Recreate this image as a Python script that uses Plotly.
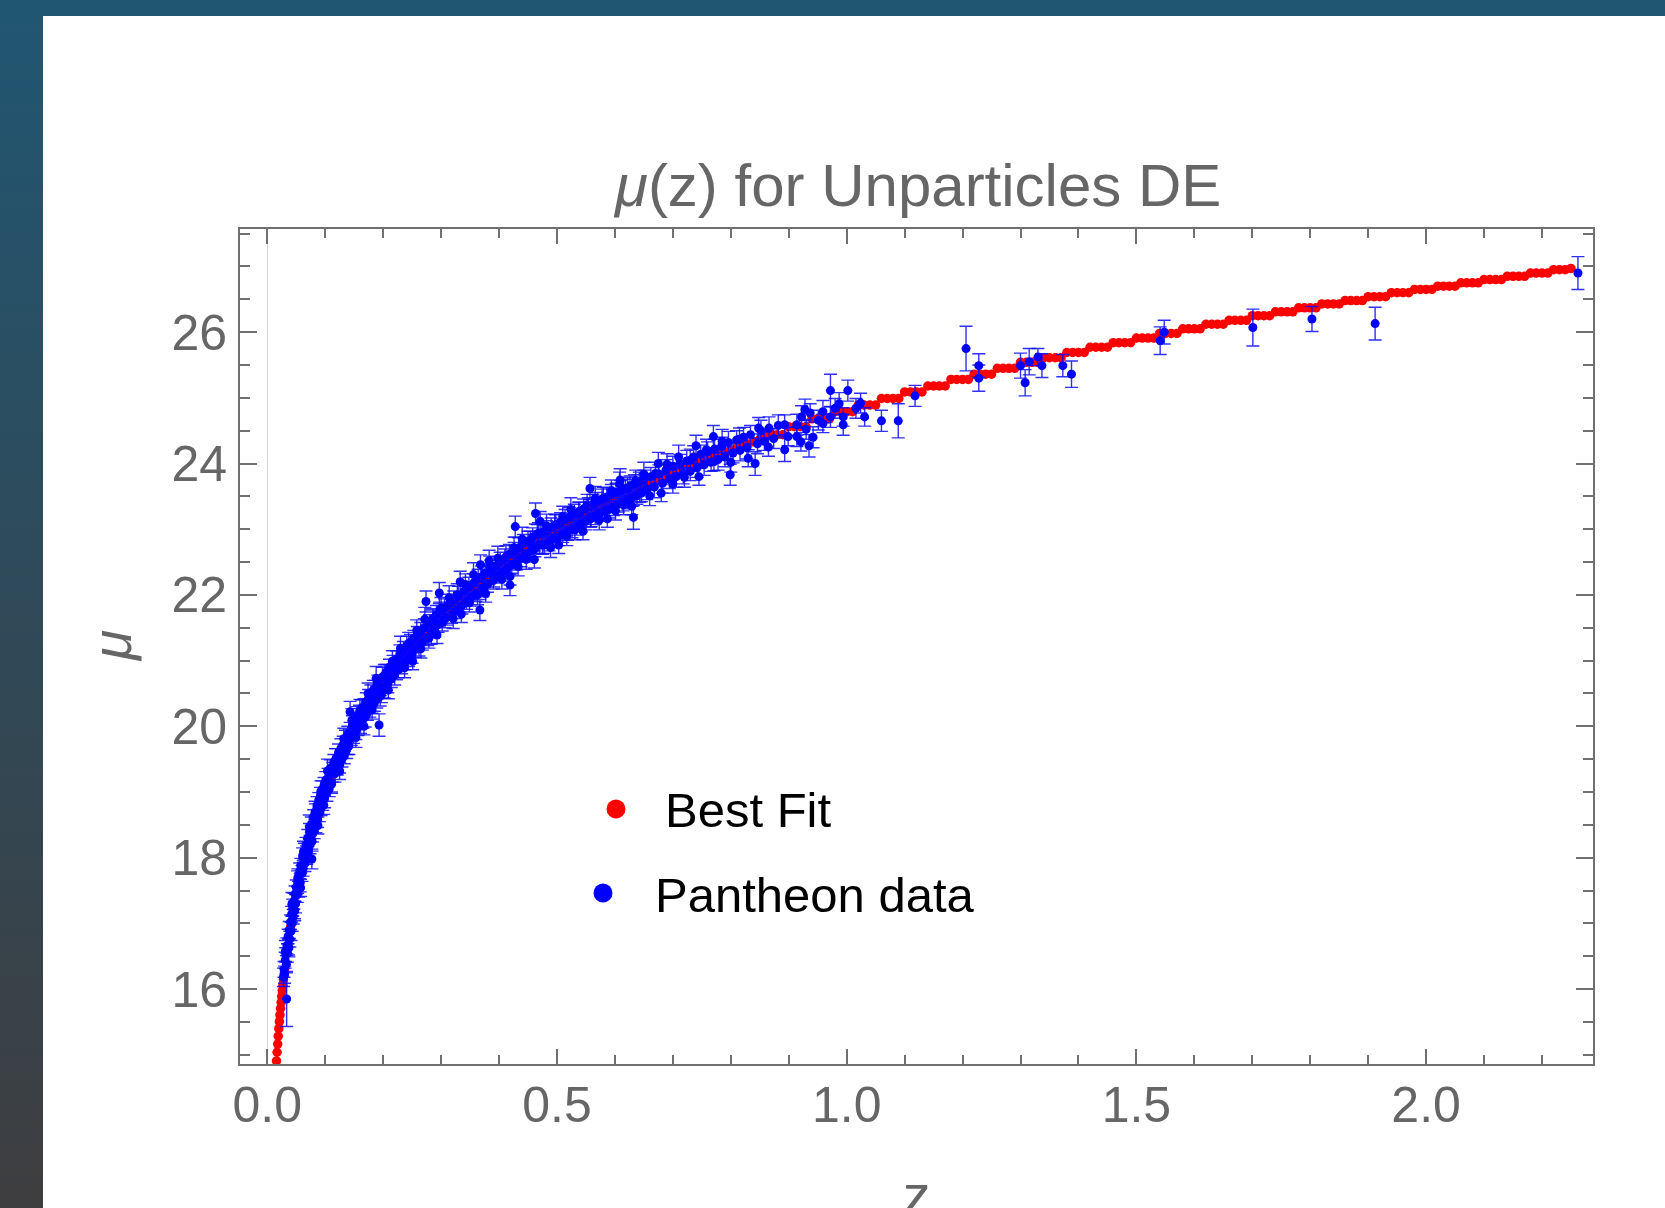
import plotly.graph_objects as go

# ---------------- data ----------------
bestfit_z = [0.015, 0.016, 0.017, 0.018, 0.019, 0.020, 0.021, 0.022, 0.023, 0.024, 0.025, 0.026, 0.027, 0.028, 0.029, 0.030,
             0.035, 0.040, 0.045, 0.050, 0.055, 0.060, 0.065, 0.070, 0.075, 0.080, 0.085, 0.090, 0.095,
             0.10, 0.11, 0.12, 0.13, 0.14, 0.15, 0.16, 0.17, 0.18, 0.19, 0.20, 0.21, 0.22, 0.23, 0.24, 0.25, 0.26, 0.27, 0.28, 0.29,
             0.30, 0.31, 0.32, 0.33, 0.34, 0.35, 0.36, 0.37, 0.38, 0.39, 0.40, 0.41, 0.42, 0.43, 0.44, 0.45, 0.46, 0.47, 0.48, 0.49,
             0.50, 0.51, 0.52, 0.53, 0.54, 0.55, 0.56, 0.57, 0.58, 0.59, 0.60, 0.61, 0.62, 0.63, 0.64, 0.65, 0.66, 0.67, 0.68, 0.69,
             0.70, 0.71, 0.72, 0.73, 0.74, 0.75, 0.76, 0.77, 0.78, 0.79, 0.80, 0.81, 0.82, 0.83, 0.84, 0.85, 0.86, 0.87, 0.88, 0.89,
             0.90, 0.91, 0.92, 0.93, 0.94, 0.95, 0.96, 0.97, 0.98, 0.99, 1.00, 1.01, 1.02, 1.03, 1.04, 1.05, 1.06, 1.07, 1.08, 1.09,
             1.10, 1.11, 1.12, 1.13, 1.14, 1.15, 1.16, 1.17, 1.18, 1.19, 1.20, 1.21, 1.22, 1.23, 1.24, 1.25, 1.26, 1.27, 1.28, 1.29,
             1.30, 1.31, 1.32, 1.33, 1.34, 1.35, 1.36, 1.37, 1.38, 1.39, 1.40, 1.41, 1.42, 1.43, 1.44, 1.45, 1.46, 1.47, 1.48, 1.49,
             1.50, 1.51, 1.52, 1.53, 1.54, 1.55, 1.56, 1.57, 1.58, 1.59, 1.60, 1.61, 1.62, 1.63, 1.64, 1.65, 1.66, 1.67, 1.68, 1.69,
             1.70, 1.71, 1.72, 1.73, 1.74, 1.75, 1.76, 1.77, 1.78, 1.79, 1.80, 1.81, 1.82, 1.83, 1.84, 1.85, 1.86, 1.87, 1.88, 1.89,
             1.90, 1.91, 1.92, 1.93, 1.94, 1.95, 1.96, 1.97, 1.98, 1.99, 2.00, 2.01, 2.02, 2.03, 2.04, 2.05, 2.06, 2.07, 2.08, 2.09,
             2.10, 2.11, 2.12, 2.13, 2.14, 2.15, 2.16, 2.17, 2.18, 2.19, 2.20, 2.21, 2.22, 2.23, 2.24, 2.25]
bestfit_mu = [14.764, 14.906, 15.039, 15.164, 15.284, 15.397, 15.504, 15.607, 15.706, 15.799, 15.890, 15.977, 16.060, 16.141, 16.219, 16.294,
              16.637, 16.935, 17.199, 17.435, 17.650, 17.847, 18.029, 18.197, 18.354, 18.501, 18.640, 18.771, 18.896,
              19.015, 19.235, 19.438, 19.625, 19.800, 19.963, 20.117, 20.262, 20.400, 20.531, 20.656, 20.773, 20.886, 20.995, 21.098, 21.199, 21.296, 21.390, 21.481, 21.569,
              21.654, 21.736, 21.815, 21.893, 21.968, 22.042, 22.113, 22.183, 22.251, 22.318, 22.384, 22.447, 22.508, 22.568, 22.628, 22.686, 22.743, 22.798, 22.853, 22.907,
              22.960, 23.012, 23.062, 23.111, 23.160, 23.208, 23.255, 23.302, 23.348, 23.393, 23.438, 23.481, 23.524, 23.566, 23.607, 23.648, 23.689, 23.729, 23.768, 23.807,
              23.846, 23.883, 23.920, 23.957, 23.993, 24.028, 24.064, 24.099, 24.133, 24.168, 24.201, 24.234, 24.267, 24.299, 24.331, 24.363, 24.44, 24.44, 24.44, 24.44,
              24.56, 24.56, 24.56, 24.56, 24.68, 24.68, 24.68, 24.68, 24.79, 24.79, 24.79, 24.79, 24.89, 24.89, 24.89, 24.89, 24.99, 24.99, 24.99, 24.99,
              25.09, 25.09, 25.09, 25.09, 25.18, 25.18, 25.18, 25.18, 25.28, 25.28, 25.28, 25.28, 25.36, 25.36, 25.36, 25.36, 25.45, 25.45, 25.45, 25.45,
              25.54, 25.54, 25.54, 25.54, 25.61, 25.61, 25.61, 25.61, 25.69, 25.69, 25.69, 25.69, 25.77, 25.77, 25.77, 25.77, 25.84, 25.84, 25.84, 25.84,
              25.91, 25.91, 25.91, 25.91, 25.98, 25.98, 25.98, 25.98, 26.05, 26.05, 26.05, 26.05, 26.12, 26.12, 26.12, 26.12, 26.18, 26.18, 26.18, 26.18,
              26.25, 26.25, 26.25, 26.25, 26.31, 26.31, 26.31, 26.31, 26.37, 26.37, 26.37, 26.37, 26.43, 26.43, 26.43, 26.43, 26.48, 26.48, 26.48, 26.48,
              26.54, 26.54, 26.54, 26.54, 26.60, 26.60, 26.60, 26.60, 26.65, 26.65, 26.65, 26.65, 26.70, 26.70, 26.70, 26.70, 26.75, 26.75, 26.75, 26.75,
              26.80, 26.80, 26.80, 26.80, 26.85, 26.85, 26.85, 26.85, 26.90, 26.90, 26.90, 26.90, 26.95, 26.95, 26.95, 26.97]

pantheon_z = [0.028, 0.029, 0.030, 0.031, 0.032, 0.033, 0.0335, 0.034, 0.035, 0.036, 0.037, 0.038, 0.039, 0.040, 0.041, 0.042, 0.043, 0.044, 0.045, 0.046,
              0.047, 0.048, 0.049, 0.050, 0.052, 0.053, 0.054, 0.056, 0.057, 0.058, 0.060, 0.061, 0.062, 0.064, 0.065, 0.067, 0.068, 0.070, 0.071, 0.073,
              0.074, 0.076, 0.077, 0.078, 0.080, 0.081, 0.083, 0.084, 0.086, 0.087, 0.089, 0.090, 0.092, 0.093, 0.095, 0.096, 0.098, 0.099,
              0.101, 0.103, 0.105, 0.107, 0.109, 0.111, 0.113, 0.115, 0.117, 0.119, 0.121, 0.123, 0.125, 0.127, 0.129, 0.131, 0.133, 0.135, 0.137, 0.139,
              0.141, 0.143, 0.145, 0.147, 0.149, 0.151, 0.153, 0.155, 0.157, 0.159, 0.161, 0.163, 0.165, 0.167, 0.169, 0.171, 0.173, 0.175, 0.177, 0.179,
              0.181, 0.183, 0.185, 0.187, 0.189, 0.191, 0.193, 0.195, 0.197, 0.199, 0.202, 0.205, 0.208, 0.211, 0.214, 0.217, 0.220, 0.223, 0.226, 0.229,
              0.232, 0.235, 0.238, 0.241, 0.244, 0.247, 0.250, 0.253, 0.256, 0.259, 0.262, 0.265, 0.268, 0.271, 0.274, 0.277, 0.280, 0.283, 0.286, 0.289,
              0.292, 0.295, 0.297, 0.298,
              0.302, 0.306, 0.310, 0.314, 0.318, 0.322, 0.326, 0.330, 0.333, 0.336, 0.340, 0.344, 0.348, 0.352, 0.356, 0.360, 0.364, 0.367, 0.368, 0.372,
              0.376, 0.380, 0.383, 0.386, 0.390, 0.394, 0.398, 0.402, 0.406, 0.410, 0.414, 0.418, 0.419, 0.422, 0.426, 0.428, 0.430, 0.434, 0.438, 0.442,
              0.446, 0.450, 0.454, 0.458, 0.462, 0.463, 0.466, 0.470, 0.471,
              0.474, 0.478, 0.482, 0.486, 0.490, 0.494, 0.498, 0.502, 0.506, 0.510, 0.514, 0.518, 0.522, 0.526, 0.530, 0.534, 0.538, 0.542, 0.546, 0.550,
              0.554, 0.557, 0.558, 0.562, 0.566, 0.570, 0.574, 0.578, 0.582, 0.586, 0.590, 0.594, 0.598, 0.602, 0.606, 0.609, 0.610, 0.614, 0.618, 0.622,
              0.626, 0.630, 0.632, 0.634, 0.638, 0.642, 0.646, 0.650,
              0.655, 0.662, 0.668, 0.675, 0.676, 0.682, 0.688, 0.694, 0.700, 0.706, 0.712, 0.718, 0.724, 0.730, 0.736, 0.740, 0.742, 0.748, 0.754, 0.760,
              0.766, 0.770, 0.772, 0.778, 0.784, 0.790, 0.796, 0.799, 0.804, 0.810, 0.816, 0.822, 0.828, 0.834, 0.842, 0.846, 0.852, 0.858, 0.866, 0.874,
              0.882,
              0.893, 0.893, 0.899, 0.914, 0.914, 0.921, 0.922, 0.928, 0.930, 0.935, 0.937, 0.942, 0.951, 0.959, 0.959, 0.972, 0.972, 0.980, 0.987, 0.994,
              0.994, 1.002, 1.016, 1.024, 1.031, 1.060, 1.089, 1.118, 1.206, 1.228, 1.228, 1.300, 1.308, 1.315, 1.330, 1.337, 1.373, 1.388, 1.541, 1.548,
              1.701, 1.803, 1.912, 2.262,
              0.0315, 0.0375, 0.0425, 0.0475, 0.0525, 0.0575, 0.0625, 0.0675, 0.0725, 0.0775, 0.0825, 0.0875, 0.0925, 0.0975,
              0.104, 0.111, 0.118, 0.125, 0.132, 0.139, 0.146, 0.153, 0.160, 0.167, 0.174, 0.181, 0.188, 0.195, 0.202, 0.209, 0.216, 0.223, 0.230, 0.237,
              0.244, 0.251, 0.258, 0.265, 0.272, 0.279, 0.286, 0.293, 0.300, 0.307, 0.314, 0.321, 0.328, 0.335, 0.342, 0.349, 0.356, 0.363, 0.370, 0.377,
              0.384, 0.391, 0.398, 0.405, 0.412, 0.419, 0.426, 0.433, 0.440, 0.447, 0.454, 0.461, 0.468, 0.475, 0.482, 0.489, 0.496, 0.503, 0.510, 0.517,
              0.524, 0.531, 0.538, 0.545, 0.552, 0.559, 0.566, 0.573, 0.580, 0.587, 0.594, 0.601, 0.608, 0.615, 0.622, 0.629, 0.636, 0.643, 0.650, 0.660,
              0.670, 0.680, 0.690, 0.700, 0.710, 0.720, 0.730, 0.745, 0.758, 0.771, 0.785, 0.800, 0.815, 0.830, 0.848, 0.865]
pantheon_mu = [16.18, 16.30, 16.22, 16.44, 16.52, 16.38, 15.85, 16.66, 16.55, 16.80, 16.64, 16.90, 16.76, 17.02, 16.88, 17.14, 17.00, 17.24, 17.10, 17.34,
               17.20, 17.45, 17.30, 17.55, 17.44, 17.70, 17.52, 17.80, 17.62, 17.88, 17.76, 18.02, 17.84, 18.10, 17.92, 18.20, 18.02, 18.30, 18.10, 18.40,
               18.20, 18.50, 17.98, 18.36, 18.62, 18.42, 18.70, 18.50, 18.80, 18.58, 18.88, 18.68, 18.95, 18.76, 19.04, 18.84, 19.10, 18.90,
               19.18, 18.98, 19.22, 19.05, 19.36, 19.12, 19.30, 19.45, 19.28, 19.52, 19.38, 19.60, 19.41, 19.66, 19.50, 19.72, 19.55, 19.80, 19.64, 19.88,
               19.70, 20.22, 19.83, 20.02, 19.86, 20.08, 19.92, 20.15, 19.99, 20.20, 20.03, 20.28, 20.10, 20.30, 20.14, 20.38, 20.21, 20.42, 20.26, 20.50,
               20.32, 20.55, 20.36, 20.58, 20.42, 20.66, 20.02, 20.60, 20.48, 20.75, 20.56, 20.82, 20.65, 20.90, 20.72, 20.96, 20.78, 21.02, 20.86, 21.10,
               20.92, 21.16, 20.98, 21.22, 21.04, 21.28, 21.10, 21.34, 21.18, 21.40, 21.22, 21.45, 21.28, 21.50, 21.90, 21.36, 21.58, 21.40, 21.64, 21.48,
               21.70, 21.55, 22.03, 21.76,
               21.58, 21.80, 21.66, 21.86, 21.70, 21.92, 21.76, 21.98, 22.20, 21.84, 22.06, 21.90, 22.12, 21.96, 22.18, 22.02, 22.24, 21.77, 22.46, 22.10,
               22.33, 22.16, 22.52, 22.38, 22.22, 22.44, 22.30, 22.50, 22.34, 22.56, 22.40, 22.62, 22.15, 22.46, 22.66, 23.04, 22.50, 22.72, 22.56, 22.78,
               22.62, 22.82, 22.66, 22.88, 22.70, 23.24, 22.92, 22.76, 23.12,
               22.95, 22.76, 22.98, 22.80, 23.03, 22.85, 23.07, 22.88, 23.11, 22.92, 23.15, 22.96, 23.19, 23.00, 23.23, 23.04, 23.27, 23.08, 23.31, 23.12,
               23.34, 23.62, 23.16, 23.38, 23.20, 23.42, 23.24, 23.46, 23.27, 23.49, 23.30, 23.53, 23.34, 23.56, 23.38, 23.75, 23.59, 23.41, 23.62, 23.44,
               23.66, 23.48, 23.18, 23.69, 23.51, 23.72, 23.55, 23.76,
               23.60, 23.80, 23.64, 24.00, 23.84, 23.70, 23.90, 23.76, 23.96, 23.80, 24.00, 23.84, 24.04, 23.88, 24.10, 24.27, 23.94, 24.14, 23.98, 24.18,
               24.02, 24.41, 24.22, 24.06, 24.26, 24.10, 24.32, 23.83, 24.16, 24.36, 24.20, 24.40, 24.24, 24.44, 24.00, 24.30, 24.50, 24.34, 24.54, 24.38,
               24.58,
               24.59, 24.21, 24.41, 24.59, 24.41, 24.33, 24.71, 24.82, 24.52, 24.27, 24.77, 24.40, 24.66, 24.79, 24.61, 24.71, 25.11, 24.84, 24.91, 24.71,
               24.59, 25.11, 24.84, 24.92, 24.71, 24.65, 24.65, 25.03, 25.75, 25.49, 25.30, 25.49, 25.23, 25.55, 25.62, 25.49, 25.49, 25.36, 25.87, 26.00,
               26.07, 26.20, 26.13, 26.90,
               16.58, 16.63, 17.29, 17.19, 17.63, 17.54, 18.09, 18.04, 18.47, 18.25, 18.69, 18.49, 19.01, 18.80,
               19.32, 19.13, 19.49, 19.32, 19.81, 19.71, 20.09, 19.83, 20.24, 20.00, 20.50, 20.25, 20.73, 20.46, 20.77, 20.55, 20.99, 20.85, 21.19, 20.89,
               21.26, 20.99, 21.46, 21.18, 21.63, 21.34, 21.62, 21.39, 21.80, 21.64, 21.96, 21.64, 22.00, 21.71, 22.16, 21.88, 22.31, 22.00, 22.27, 22.02,
               22.43, 22.26, 22.56, 22.24, 22.58, 22.28, 22.72, 22.43, 22.85, 22.54, 22.80, 22.54, 22.94, 22.76, 23.05, 22.72, 23.06, 22.76, 23.19, 22.89,
               23.30, 22.99, 23.24, 22.97, 23.37, 23.18, 23.47, 23.14, 23.47, 23.16, 23.59, 23.28, 23.69, 23.37, 23.62, 23.35, 23.74, 23.55, 23.84, 23.51,
               23.85, 23.55, 23.99, 23.69, 24.10, 23.79, 24.05, 23.80, 24.21, 24.03, 24.34, 24.02, 24.37, 24.08, 24.54, 24.25]
pantheon_err = [0.14, 0.12, 0.13, 0.12, 0.11, 0.13, 0.42, 0.12, 0.14, 0.11, 0.12, 0.13, 0.12, 0.11, 0.14, 0.12, 0.12, 0.13, 0.11, 0.12,
                0.13, 0.12, 0.14, 0.11, 0.12, 0.13, 0.12, 0.12, 0.14, 0.11, 0.12, 0.13, 0.12, 0.12, 0.13, 0.11, 0.12, 0.13, 0.12, 0.12,
                0.14, 0.12, 0.15, 0.12, 0.11, 0.13, 0.12, 0.12, 0.13, 0.12, 0.11, 0.13, 0.12, 0.12, 0.13, 0.12, 0.12, 0.14,
                0.13, 0.12, 0.14, 0.12, 0.13, 0.12, 0.15, 0.12, 0.13, 0.14, 0.12, 0.13, 0.12, 0.15, 0.12, 0.13, 0.12, 0.14, 0.13, 0.12,
                0.13, 0.16, 0.12, 0.14, 0.12, 0.13, 0.12, 0.15, 0.13, 0.12, 0.14, 0.12, 0.13, 0.12, 0.15, 0.13, 0.12, 0.14, 0.12, 0.13,
                0.12, 0.15, 0.13, 0.12, 0.14, 0.12, 0.17, 0.13, 0.12, 0.15, 0.13, 0.12, 0.14, 0.12, 0.13, 0.12, 0.15, 0.13, 0.12, 0.14,
                0.12, 0.13, 0.12, 0.15, 0.13, 0.12, 0.14, 0.12, 0.13, 0.12, 0.15, 0.13, 0.12, 0.14, 0.16, 0.13, 0.12, 0.15, 0.13, 0.12,
                0.14, 0.12, 0.16, 0.13,
                0.13, 0.14, 0.12, 0.15, 0.13, 0.14, 0.12, 0.15, 0.16, 0.13, 0.14, 0.12, 0.15, 0.13, 0.14, 0.12, 0.15, 0.16, 0.15, 0.13,
                0.14, 0.12, 0.16, 0.15, 0.13, 0.14, 0.12, 0.15, 0.13, 0.14, 0.12, 0.15, 0.16, 0.13, 0.14, 0.16, 0.12, 0.15, 0.13, 0.14,
                0.12, 0.15, 0.13, 0.14, 0.12, 0.16, 0.15, 0.13, 0.15,
                0.14, 0.13, 0.15, 0.13, 0.14, 0.12, 0.15, 0.13, 0.14, 0.12, 0.15, 0.13, 0.14, 0.13, 0.15, 0.13, 0.14, 0.12, 0.15, 0.13,
                0.14, 0.17, 0.13, 0.15, 0.13, 0.14, 0.12, 0.15, 0.13, 0.14, 0.13, 0.15, 0.13, 0.14, 0.12, 0.17, 0.15, 0.13, 0.14, 0.13,
                0.15, 0.13, 0.18, 0.14, 0.13, 0.15, 0.13, 0.14,
                0.15, 0.14, 0.16, 0.17, 0.14, 0.15, 0.16, 0.14, 0.15, 0.16, 0.14, 0.15, 0.16, 0.14, 0.17, 0.16, 0.15, 0.14, 0.16, 0.15,
                0.14, 0.17, 0.15, 0.16, 0.14, 0.15, 0.17, 0.16, 0.15, 0.14, 0.16, 0.15, 0.17, 0.14, 0.18, 0.15, 0.16, 0.14, 0.17, 0.15,
                0.16,
                0.15, 0.18, 0.14, 0.16, 0.15, 0.14, 0.17, 0.16, 0.15, 0.17, 0.14, 0.16, 0.15, 0.17, 0.14, 0.16, 0.25, 0.15, 0.17, 0.14,
                0.16, 0.16, 0.15, 0.15, 0.14, 0.16, 0.26, 0.16, 0.34, 0.18, 0.20, 0.19, 0.20, 0.20, 0.13, 0.18, 0.17, 0.20, 0.21, 0.18,
                0.28, 0.19, 0.25, 0.25,
                0.16, 0.14, 0.18, 0.15, 0.17, 0.13, 0.16, 0.14, 0.18, 0.15, 0.17, 0.13, 0.16, 0.14,
                0.18, 0.15, 0.17, 0.13, 0.16, 0.14, 0.18, 0.15, 0.17, 0.13, 0.16, 0.14, 0.18, 0.15, 0.17, 0.13, 0.16, 0.14, 0.18, 0.15,
                0.17, 0.13, 0.16, 0.14, 0.18, 0.15, 0.17, 0.13, 0.16, 0.14, 0.18, 0.15, 0.17, 0.13, 0.16, 0.14, 0.18, 0.15, 0.17, 0.13,
                0.16, 0.14, 0.18, 0.15, 0.17, 0.13, 0.16, 0.14, 0.18, 0.15, 0.17, 0.13, 0.16, 0.14, 0.18, 0.15, 0.17, 0.13, 0.16, 0.14,
                0.18, 0.15, 0.17, 0.13, 0.16, 0.14, 0.18, 0.15, 0.17, 0.13, 0.16, 0.14, 0.18, 0.15, 0.17, 0.13, 0.16, 0.14, 0.18, 0.15,
                0.17, 0.13, 0.16, 0.14, 0.18, 0.15, 0.17, 0.13, 0.16, 0.14, 0.18, 0.15, 0.17, 0.13, 0.16, 0.14]

x_tickvals = [0.0, 0.5, 1.0, 1.5, 2.0]
x_ticktext = ["0.0", "0.5", "1.0", "1.5", "2.0"]
y_tickvals = [16, 18, 20, 22, 24, 26]
y_ticktext = ["16", "18", "20", "22", "24", "26"]

title_text = "<i>μ</i>(z) for Unparticles DE"
x_title = "z"
y_title = "<i>μ</i>"
legend_labels = ["Best Fit", "Pantheon data"]

# ---------------- layout geometry ----------------
W, H = 1665, 1208
ML, MR, MT, MB = 240, 72, 229, 144
PW, PH = W - ML - MR, H - MT - MB
FONT = "Liberation Sans, Arial, sans-serif"
GRAY = "#666666"
AX = "#707070"


def px(xp):
    return (xp - ML) / PW


def py(yp):
    return (H - MB - yp) / PH


fig = go.Figure()

fig.add_trace(go.Scatter(
    x=bestfit_z, y=bestfit_mu, mode="markers", name=legend_labels[0],
    marker=dict(color="#ff0000", size=9.5, line=dict(width=0)), showlegend=False))

fig.add_trace(go.Scatter(
    x=pantheon_z, y=pantheon_mu, mode="markers", name=legend_labels[1],
    marker=dict(color="#0000ff", size=9, line=dict(width=0)),
    error_y=dict(type="data", array=pantheon_err, visible=True,
                 color="rgba(10,10,255,0.85)", thickness=1.4, width=6.5),
    showlegend=False))

# background strips (left gradient and top band)
shapes = []
n = 151
c0 = (33, 86, 114)
c1 = (62, 62, 64)
for i in range(n):
    t = i / (n - 1)
    col = "rgb(%d,%d,%d)" % tuple(round(c0[k] + (c1[k] - c0[k]) * t) for k in range(3))
    y0 = i * H / n
    y1 = (i + 1) * H / n + 0.6
    shapes.append(dict(type="rect", xref="paper", yref="paper", layer="below",
                       x0=px(0), x1=px(43), y0=py(min(y1, H)), y1=py(y0),
                       fillcolor=col, line=dict(width=0)))
shapes.append(dict(type="rect", xref="paper", yref="paper", layer="below",
                   x0=px(0), x1=px(W), y0=py(16), y1=py(0),
                   fillcolor="rgb(33,86,114)", line=dict(width=0)))

# legend dots
shapes.append(dict(type="circle", xref="paper", yref="paper", xsizemode="pixel", ysizemode="pixel",
                   xanchor=px(616), yanchor=py(809), x0=-9.5, x1=9.5, y0=-9.5, y1=9.5,
                   fillcolor="#ff0000", line=dict(width=0)))
shapes.append(dict(type="circle", xref="paper", yref="paper", xsizemode="pixel", ysizemode="pixel",
                   xanchor=px(603), yanchor=py(893), x0=-9.5, x1=9.5, y0=-9.5, y1=9.5,
                   fillcolor="#0000ff", line=dict(width=0)))

annotations = [
    dict(text=title_text, xref="paper", yref="paper", x=0.5, y=py(186), xanchor="center", yanchor="middle",
         showarrow=False, font=dict(family=FONT, size=60, color=GRAY)),
    dict(text=x_title, xref="paper", yref="paper", x=px(917), y=py(1195), xanchor="center", yanchor="middle",
         showarrow=False, font=dict(family=FONT, size=55, color=GRAY)),
    dict(text=y_title, xref="paper", yref="paper", x=px(112), y=py(646), xanchor="center", yanchor="middle",
         textangle=-90, showarrow=False, font=dict(family=FONT, size=55, color=GRAY)),
    dict(text=legend_labels[0], xref="paper", yref="paper", x=px(663), y=py(810), xanchor="left", yanchor="middle",
         showarrow=False, font=dict(family=FONT, size=49, color="black")),
    dict(text=legend_labels[1], xref="paper", yref="paper", x=px(653), y=py(895), xanchor="left", yanchor="middle",
         showarrow=False, font=dict(family=FONT, size=49, color="black")),
]

fig.update_layout(
    width=W, height=H, autosize=False,
    margin=dict(l=ML, r=MR, t=MT, b=MB, pad=0),
    paper_bgcolor="white", plot_bgcolor="white",
    showlegend=False,
    shapes=shapes, annotations=annotations,
    font=dict(family=FONT, color=GRAY),
)

fig.update_xaxes(
    range=[-0.047, 2.288], tickvals=x_tickvals, ticktext=x_ticktext,
    ticks="inside", ticklen=15, tickwidth=2, tickcolor=AX,
    showline=True, linecolor=AX, linewidth=2, mirror="allticks",
    showgrid=False, zeroline=True, zerolinecolor="#d4d4d4", zerolinewidth=1,
    tickfont=dict(family=FONT, size=50, color=GRAY), ticklabelstandoff=-4,
    minor=dict(ticks="inside", ticklen=9, tickwidth=1.5, tickcolor=AX, dtick=0.1, tick0=0, showgrid=False),
)
fig.update_yaxes(
    range=[14.86, 27.57], tickvals=y_tickvals, ticktext=y_ticktext,
    ticks="inside", ticklen=17, tickwidth=2, tickcolor=AX,
    showline=True, linecolor=AX, linewidth=2, mirror="allticks",
    showgrid=False, zeroline=False,
    tickfont=dict(family=FONT, size=50, color=GRAY), ticklabelstandoff=1,
    minor=dict(ticks="inside", ticklen=10, tickwidth=1.5, tickcolor=AX, dtick=0.5, tick0=0, showgrid=False),
)

fig.write_html("out.html", config={"displayModeBar": False},
               post_script="document.body.style.margin='0';document.body.style.padding='0';document.body.style.overflow='hidden';")
